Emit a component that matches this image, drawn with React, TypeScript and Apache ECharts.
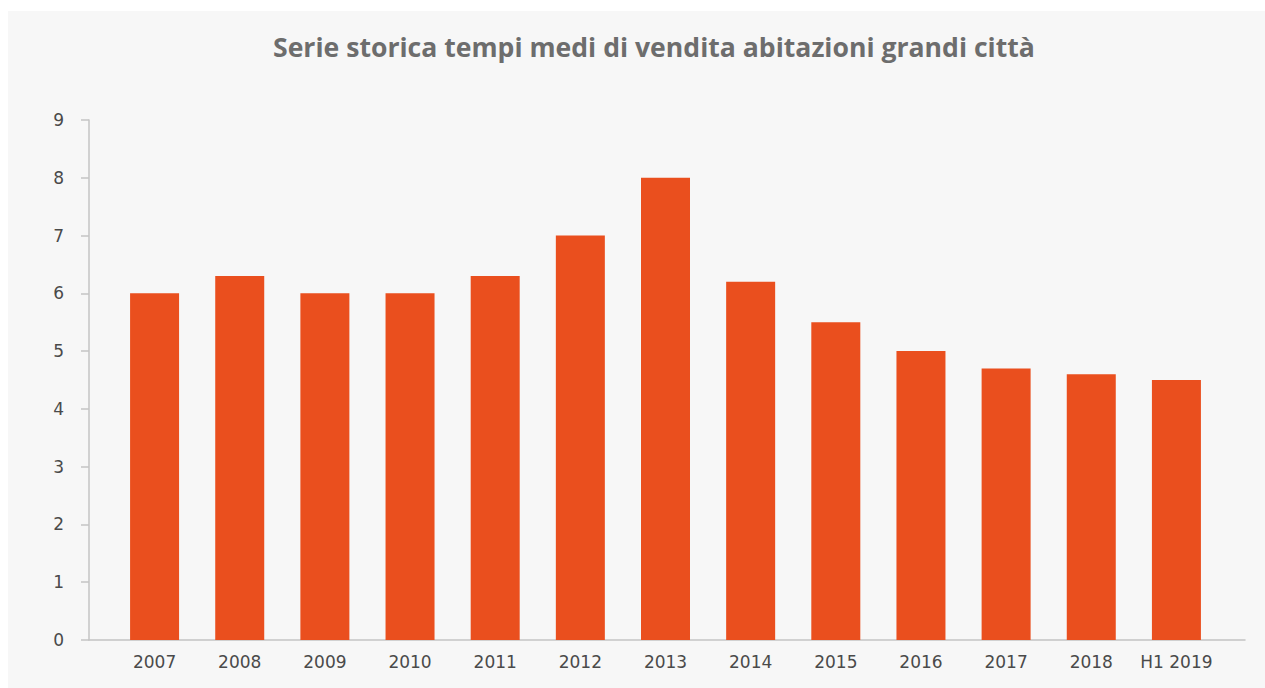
import React, { useEffect, useRef } from "react";
import * as echarts from "echarts";

const categories = ["2007", "2008", "2009", "2010", "2011", "2012", "2013", "2014", "2015", "2016", "2017", "2018", "H1 2019"];
const months = [6.0, 6.3, 6.0, 6.0, 6.3, 7.0, 8.0, 6.2, 5.5, 5.0, 4.7, 4.6, 4.5];
const yTicks = { min: 0, max: 9, interval: 1 };
const titleText = "Serie storica tempi medi di vendita abitazioni grandi città";

export default function App() {
  const ref = useRef<HTMLDivElement>(null);
  useEffect(() => {
    if (!ref.current) return;
    const chart = echarts.init(ref.current, null, { renderer: "svg" });
    const labelFont = "'DejaVu Sans', sans-serif";
    chart.setOption({
      animation: false,
      backgroundColor: "#f7f7f7",
      title: {
        text: titleText,
        left: 260,
        top: 17,
        textStyle: {
          fontFamily: "'Open Sans', sans-serif",
          fontWeight: "bold",
          fontSize: 26.6,
          color: "#6d6d6d",
        },
      },
      grid: [
        { left: 81, width: 1156, top: 109, height: 520 },
        { left: 104, width: 1107, top: 109, height: 520 },
      ],
      xAxis: [
        {
          gridIndex: 0,
          type: "value",
          min: 0,
          max: 1,
          axisLine: { show: true, onZero: false, lineStyle: { color: "#c4c4c4", width: 1.5 } },
          axisTick: { show: false },
          axisLabel: { show: false },
          splitLine: { show: false },
        },
        {
          gridIndex: 1,
          type: "category",
          data: categories,
          axisLine: { show: false },
          axisTick: { show: false },
          axisLabel: {
            interval: 0,
            margin: 13,
            fontFamily: labelFont,
            fontSize: 17,
            color: "#4a4a4a",
          },
        },
      ],
      yAxis: [
        {
          gridIndex: 0,
          type: "value",
          min: yTicks.min,
          max: yTicks.max,
          interval: yTicks.interval,
          axisLine: { show: true, lineStyle: { color: "#c4c4c4", width: 1.5 } },
          axisTick: { show: true, length: 8, lineStyle: { color: "#c4c4c4", width: 1.5 } },
          axisLabel: {
            margin: 25,
            fontFamily: labelFont,
            fontSize: 17,
            color: "#4a4a4a",
          },
          splitLine: { show: false },
        },
        {
          gridIndex: 1,
          type: "value",
          min: yTicks.min,
          max: yTicks.max,
          interval: yTicks.interval,
          show: false,
          splitLine: { show: false },
        },
      ],
      series: [
        {
          type: "bar",
          xAxisIndex: 1,
          yAxisIndex: 1,
          data: months,
          barWidth: 49,
          itemStyle: { color: "#ea4f1e" },
        },
      ],
    });
    return () => chart.dispose();
  }, []);
  return (
    <div
      ref={ref}
      style={{ position: "fixed", left: 8, top: 11, width: 1257, height: 677 }}
    />
  );
}
